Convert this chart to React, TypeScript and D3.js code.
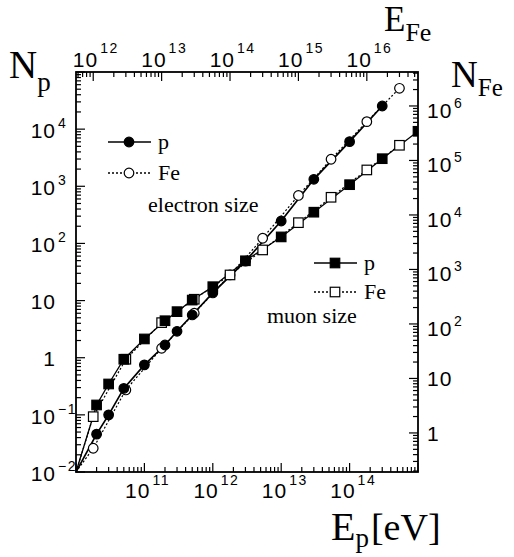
import React, { useEffect, useRef } from "react";
import * as d3 from "d3";

// proton showers: primary energy (eV) vs. size
const energyP = [2e10, 3e10, 5e10, 1e11, 2e11, 3e11, 5e11, 1e12, 3e12, 1e13, 3e13, 1e14, 3e14, 1e15];
const electronSizeP = [0.046, 0.1, 0.29, 0.75, 1.67, 2.9, 5.6, 13.6, 49, 247, 1325, 6040, 25400];
const muonSizeP = [0.149, 0.347, 0.94, 2.13, 4.44, 6.4, 10.2, 17.5, 49.7, 130, 352, 1067, 3040, 9170];

// iron showers (read against the top / right axes)
const energyFe = [1e12, 3e12, 1e13, 3e13, 1e14, 3e14, 1e15, 3e15, 1e16, 3e16];
const electronSizeFe = [0.524, 6.15, 35.8, 157, 793, 3735, 22800, 105200, 515000, 2.11e6];
const muonSizeFe = [1.99, 22.5, 105.7, 284, 793, 2280, 7220, 21100, 67000, 190000];

const bottomTicks = [1e11, 1e12, 1e13, 1e14];
const topTicks = [1e12, 1e13, 1e14, 1e15, 1e16];
const leftTicks = [1e-2, 1e-1, 1, 10, 1e2, 1e3, 1e4];
const rightTicks = [1, 10, 1e2, 1e3, 1e4, 1e5, 1e6];

const W = 514, H = 557;
const X0 = 76, X1 = 418, Y0 = 472, Y1 = 72;
const SANS = "'Liberation Sans', Arial, sans-serif";
const SERIF = "'Liberation Serif', 'Times New Roman', serif";

const powLabel = (v: number) => {
  const e = Math.round(Math.log10(v));
  if (e === 0) return ["1", ""];
  if (e === 1) return ["10", ""];
  return ["10", e < 0 ? "\u2212" + -e : String(e)];
};

const logTicks = (domain: number[]) => {
  const lo = Math.min(domain[0], domain[1]), hi = Math.max(domain[0], domain[1]);
  const out: { v: number; major: boolean }[] = [];
  for (let d = Math.floor(Math.log10(lo)); d <= Math.ceil(Math.log10(hi)); d++) {
    for (let m = 1; m <= 9; m++) {
      const v = m * Math.pow(10, d);
      if (v >= lo * 0.999 && v <= hi * 1.001) out.push({ v, major: m === 1 });
    }
  }
  return out;
};

export default function App() {
  const ref = useRef<SVGSVGElement>(null);

  useEffect(() => {
    const svg = d3.select(ref.current);
    svg.selectAll("*").remove();

    const xP = d3.scaleLog().domain([1e10, 1e15]).range([X0, X1]);
    const xFe = d3.scaleLog().domain([5.6e11, 5.6e16]).range([X0, X1]);
    const yP = d3.scaleLog().domain([1e-2, 1e5]).range([Y0, Y1]);
    const yFe = d3.scaleLog().domain([0.192, 4.2e6]).range([Y0, Y1]);

    svg.append("defs").append("clipPath").attr("id", "frame")
      .append("rect").attr("x", X0).attr("y", Y1).attr("width", X1 - X0).attr("height", Y0 - Y1);

    // ticks
    const tk = svg.append("g").attr("stroke", "#000").attr("stroke-width", 1.2);
    logTicks(xP.domain()).forEach(t => {
      const x = xP(t.v), l = t.major ? 9 : 5;
      tk.append("line").attr("x1", x).attr("x2", x).attr("y1", Y0).attr("y2", Y0 - l);
    });
    logTicks(xFe.domain()).forEach(t => {
      const x = xFe(t.v), l = t.major ? 9 : 5;
      tk.append("line").attr("x1", x).attr("x2", x).attr("y1", Y1).attr("y2", Y1 + l);
    });
    logTicks(yP.domain()).forEach(t => {
      const y = yP(t.v), l = t.major ? 9 : 5;
      tk.append("line").attr("x1", X0).attr("x2", X0 + l).attr("y1", y).attr("y2", y);
    });
    logTicks(yFe.domain()).forEach(t => {
      const y = yFe(t.v), l = t.major ? 9 : 5;
      tk.append("line").attr("x1", X1).attr("x2", X1 - l).attr("y1", y).attr("y2", y);
    });

    svg.append("rect").attr("x", X0).attr("y", Y1).attr("width", X1 - X0).attr("height", Y0 - Y1)
      .attr("fill", "none").attr("stroke", "#000").attr("stroke-width", 1.8);

    // tick labels
    const lab = svg.append("g").attr("font-family", SANS).attr("fill", "#000");
    const put = (x: number, y: number, v: number, raise: number, anchorBase: string, drop = 0) => {
      const [b, s] = powLabel(v);
      const yy = s ? y + drop : y;
      lab.append("text").attr("x", x).attr("y", yy).attr("font-size", 21)
        .attr("text-anchor", anchorBase).attr("letter-spacing", 1).text(b);
      if (s) {
        const bx = anchorBase === "end" ? x + 2 : x + (b.length * 12.5) + 2;
        lab.append("text").attr("x", bx).attr("y", yy - raise).attr("font-size", 14)
          .attr("letter-spacing", 1.5).text(s);
      }
    };
    bottomTicks.forEach(v => put(xP(v) + 6, 498, v, 13, "end"));
    topTicks.forEach(v => put(xFe(v) + 5, 67, v, 14, "end"));
    leftTicks.forEach(v => put(56, yP(v) + 8, v, 10, "end", 1));
    rightTicks.forEach(v => put(427, yFe(v) + 8, v, 10, "start", 4));

    // curves
    const plot = svg.append("g").attr("clip-path", "url(#frame)");
    const series = [
      { xs: [1e10, ...energyP.slice(0, electronSizeP.length)], ys: [1e-2, ...electronSizeP], x: xP, y: yP, dash: null, w: 1.7 },
      { xs: [1e10, ...energyP], ys: [1e-2, ...muonSizeP], x: xP, y: yP, dash: null, w: 1.3 },
      { xs: [xFe.domain()[0], ...energyFe], ys: [yFe.domain()[0], ...electronSizeFe], x: xFe, y: yFe, dash: "2,2", w: 1.2 },
      { xs: [xFe.domain()[0], ...energyFe], ys: [yFe.domain()[0], ...muonSizeFe], x: xFe, y: yFe, dash: "2,2", w: 1.2 },
    ];
    series.forEach(s => {
      const line = d3.line<number>().x((_, i) => s.x(s.xs[i])).y(d => s.y(d));
      plot.append("path").attr("d", line(s.ys)).attr("fill", "none").attr("stroke", "#000")
        .attr("stroke-width", s.w).attr("stroke-dasharray", s.dash);
    });

    const R = 4.8, S = 9.5;
    const circle = (g: any, x: number, y: number, filled: boolean) =>
      g.append("circle").attr("cx", x).attr("cy", y).attr("r", R)
        .attr("fill", filled ? "#000" : "#fff").attr("stroke", "#000").attr("stroke-width", 1.2);
    const square = (g: any, x: number, y: number, filled: boolean) =>
      g.append("rect").attr("x", x - S / 2).attr("y", y - S / 2).attr("width", S).attr("height", S)
        .attr("fill", filled ? "#000" : "#fff").attr("stroke", "#000").attr("stroke-width", 1.2);

    energyFe.forEach((e, i) => circle(plot, xFe(e), yFe(electronSizeFe[i]), false));
    energyFe.forEach((e, i) => square(plot, xFe(e), yFe(muonSizeFe[i]), false));
    electronSizeP.forEach((n, i) => circle(plot, xP(energyP[i]), yP(n), true));
    muonSizeP.forEach((n, i) => square(plot, xP(energyP[i]), yP(n), true));

    // legends
    const lg = svg.append("g");
    const legRow = (x: number, y: number, dash: string | null, mark: (g: any, x: number, y: number) => void, txt: string) => {
      lg.append("line").attr("x1", x).attr("x2", x + 43).attr("y1", y).attr("y2", y)
        .attr("stroke", "#000").attr("stroke-width", 1.3).attr("stroke-dasharray", dash);
      mark(lg, x + 21, y);
      lg.append("text").attr("x", x + 50).attr("y", y + 7).attr("font-family", SERIF)
        .attr("font-size", 22).text(txt);
    };
    legRow(108, 142, null, (g, x, y) => circle(g, x, y, true), "p");
    legRow(108, 173, "2,2", (g, x, y) => circle(g, x, y, false), "Fe");
    lg.append("text").attr("x", 148).attr("y", 212).attr("font-family", SERIF).attr("font-size", 22).text("electron size");
    legRow(314, 263, null, (g, x, y) => square(g, x, y, true), "p");
    legRow(314, 292, "2,2", (g, x, y) => square(g, x, y, false), "Fe");
    lg.append("text").attr("x", 267).attr("y", 323).attr("font-family", SERIF).attr("font-size", 22).text("muon size");

    // axis titles
    const title = (x: number, y: number, main: string, sub: string, big: number, small: number, dy: number, rest?: string, restSize?: number) => {
      const t = svg.append("text").attr("x", x).attr("y", y).attr("font-family", SERIF).attr("font-size", big);
      t.append("tspan").text(main);
      t.append("tspan").attr("font-size", small).attr("dy", dy).text(sub);
      if (rest) t.append("tspan").attr("dy", -dy).attr("dx", 2).attr("font-size", restSize || big).text(rest);
    };
    title(9, 78, "N", "p", 39, 27, 13);
    title(384, 31, "E", "Fe", 35, 26, 10);
    title(451, 87, "N", "Fe", 37, 25, 9);
    title(331, 540, "E", "p", 40, 27, 7, "[eV]", 38);
  }, []);

  return <svg ref={ref} width={W} height={H} style={{ position: "absolute", left: 0, top: 0, background: "#fff" }} />;
}
